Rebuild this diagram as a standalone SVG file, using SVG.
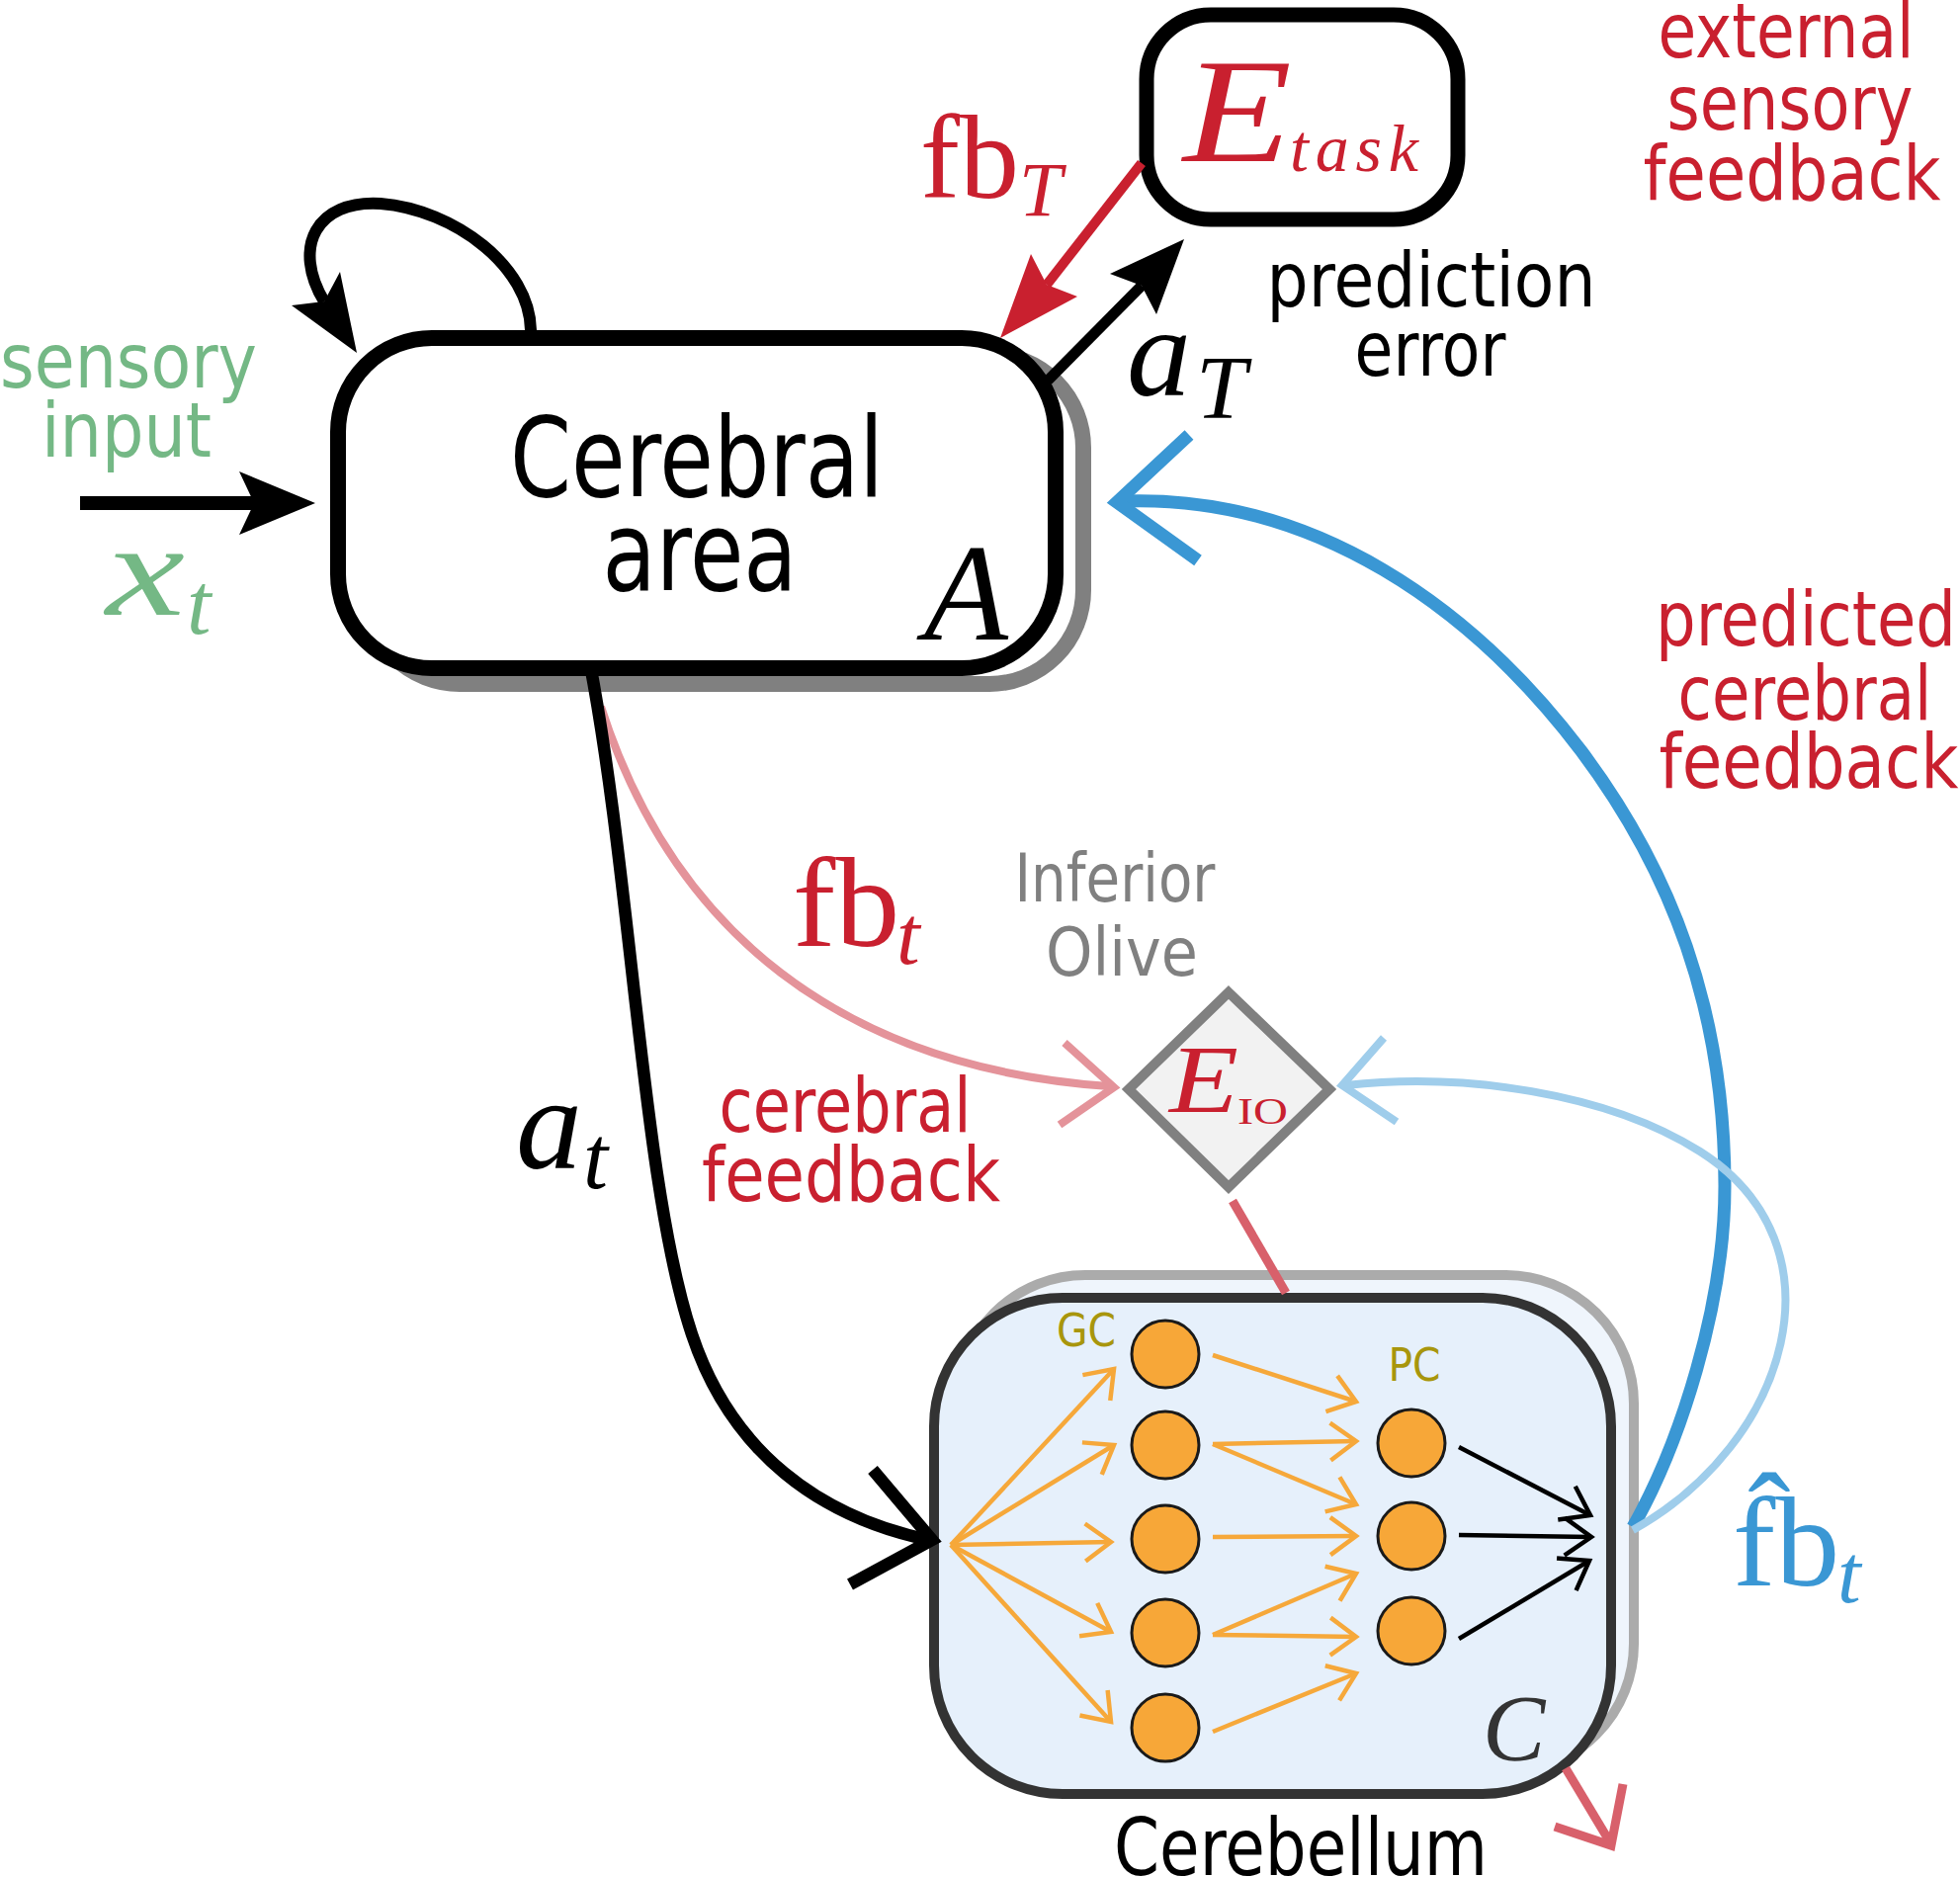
<svg xmlns="http://www.w3.org/2000/svg" width="1983" height="1899" viewBox="0 0 1983 1899">
<defs>
<style>
.sans{font-family:"DejaVu Sans","Liberation Sans",sans-serif;}
.math{font-family:"Liberation Serif","DejaVu Serif",serif;font-style:italic;}
.rm{font-family:"Liberation Serif","DejaVu Serif",serif;}
.red{fill:#c9202f;}
.green{fill:#74b885;}
.gray{fill:#808080;}
.olive{fill:#a8960c;}
.blk{fill:#000;}
.blue{fill:#3a97d4;}
.lbl{font-size:76px;}
.cell{fill:#f7a738;stroke:#1a1a1a;stroke-width:3;}
.oa{fill:none;stroke:#f6a83a;stroke-width:4.5;marker-end:url(#chevO);}
.ka{fill:none;stroke:#000;stroke-width:4.5;marker-end:url(#chevK);}
.chev{fill:none;stroke-linejoin:miter;stroke-linecap:butt;}
</style>
<marker id="chevO" markerUnits="userSpaceOnUse" markerWidth="60" markerHeight="60" refX="0" refY="0" orient="auto" overflow="visible">
<path d="M -26 -19 L 0 0 L -26 19" fill="none" stroke="#f6a83a" stroke-width="4.5"/>
</marker>
<marker id="chevK" markerUnits="userSpaceOnUse" markerWidth="60" markerHeight="60" refX="0" refY="0" orient="auto" overflow="visible">
<path d="M -27 -19 L 0 0 L -27 19" fill="none" stroke="#000" stroke-width="4.5"/>
</marker>
</defs>
<rect x="0" y="0" width="1983" height="1899" fill="#fff"/>

<g id="node-cerebral-area">
<rect x="370" y="358" width="726" height="334" rx="95" fill="#fff" stroke="#808080" stroke-width="16"/>
<rect x="342" y="342" width="726" height="334" rx="95" fill="#fff" stroke="#000" stroke-width="16"/>
<text class="sans blk" x="705" y="502" font-size="112" text-anchor="middle" textLength="378" lengthAdjust="spacingAndGlyphs">Cerebral</text>
<text class="sans blk" x="708" y="597" font-size="112" text-anchor="middle" textLength="197" lengthAdjust="spacingAndGlyphs">area</text>
<text class="math blk" x="935" y="647" font-size="139">A</text>
</g>

<g id="node-etask">
<rect x="1160" y="15" width="315" height="207" rx="65" fill="#fff" stroke="#000" stroke-width="15"/>
<text class="math red" x="1197" y="163" font-size="150" textLength="110" lengthAdjust="spacingAndGlyphs">E</text>
<text class="math red" x="1305" y="173" font-size="68" textLength="130" lengthAdjust="spacing">task</text>
</g>

<g id="node-inferior-olive">
<polygon points="1243,1004 1345,1102 1243,1201 1142,1102" fill="#f2f2f2" stroke="#808080" stroke-width="10"/>
<text class="math red" x="1183" y="1125" font-size="98" textLength="70" lengthAdjust="spacingAndGlyphs">E</text>
<text class="rm red" x="1252" y="1137" font-size="38" textLength="51" lengthAdjust="spacingAndGlyphs">IO</text>
<text class="sans gray" x="1128" y="912" font-size="68" text-anchor="middle" textLength="203" lengthAdjust="spacingAndGlyphs">Inferior</text>
<text class="sans gray" x="1135" y="987" font-size="68" text-anchor="middle" textLength="154" lengthAdjust="spacingAndGlyphs">Olive</text>
</g>

<g id="node-cerebellum">
<rect x="968" y="1290" width="685" height="503" rx="130" fill="#eff5fc" stroke="#ababab" stroke-width="10"/>
<rect x="945" y="1313" width="685" height="502" rx="130" fill="#e6f0fb" stroke="#333" stroke-width="10"/>
<g id="fan-in">
<line class="oa" x1="962" y1="1563" x2="1127" y2="1385"/>
<line class="oa" x1="962" y1="1563" x2="1127" y2="1462"/>
<line class="oa" x1="962" y1="1563" x2="1124" y2="1560"/>
<line class="oa" x1="962" y1="1563" x2="1124" y2="1651"/>
<line class="oa" x1="962" y1="1563" x2="1124" y2="1742"/>
</g>
<g id="gc-to-pc">
<line class="oa" x1="1227" y1="1371" x2="1372" y2="1418"/>
<line class="oa" x1="1227" y1="1461" x2="1372" y2="1458"/>
<line class="oa" x1="1227" y1="1461" x2="1372" y2="1522"/>
<line class="oa" x1="1227" y1="1555" x2="1372" y2="1554"/>
<line class="oa" x1="1227" y1="1654" x2="1372" y2="1592"/>
<line class="oa" x1="1227" y1="1654" x2="1372" y2="1656"/>
<line class="oa" x1="1227" y1="1752" x2="1372" y2="1693"/>
</g>
<g id="pc-out">
<line class="ka" x1="1476" y1="1464" x2="1609" y2="1533"/>
<line class="ka" x1="1476" y1="1553" x2="1610" y2="1555"/>
<line class="ka" x1="1476" y1="1658" x2="1608" y2="1579"/>
</g>
<g id="gc-cells">
<circle class="cell" cx="1179" cy="1370" r="34"/>
<circle class="cell" cx="1179" cy="1462" r="34"/>
<circle class="cell" cx="1179" cy="1557" r="34"/>
<circle class="cell" cx="1179" cy="1652" r="34"/>
<circle class="cell" cx="1179" cy="1748" r="34"/>
</g>
<g id="pc-cells">
<circle class="cell" cx="1428" cy="1460" r="34"/>
<circle class="cell" cx="1428" cy="1554" r="34"/>
<circle class="cell" cx="1428" cy="1650" r="34"/>
</g>
<text class="sans olive" x="1099" y="1362" font-size="46" text-anchor="middle" textLength="60" lengthAdjust="spacingAndGlyphs">GC</text>
<text class="sans olive" x="1431" y="1397" font-size="46" text-anchor="middle" textLength="53" lengthAdjust="spacingAndGlyphs">PC</text>
<text class="math" x="1500" y="1781" font-size="95" fill="#333">C</text>
<text class="sans blk" x="1316" y="1897" font-size="80" text-anchor="middle" textLength="378" lengthAdjust="spacingAndGlyphs">Cerebellum</text>
</g>

<g id="connectors">
<g id="conn-sensory">
<line x1="81" y1="509" x2="258" y2="509" stroke="#000" stroke-width="14"/>
<polygon points="319,509 242,477 257,509 242,541" fill="#000"/>
</g>
<g id="conn-selfloop">
<path d="M 537 334 C 536 270, 460 212, 385 206 C 320 202, 295 250, 328 305" fill="none" stroke="#000" stroke-width="12"/>
<polygon points="361,357 295,309 328,305 344,275" fill="#000"/>
</g>
<g id="conn-fb-t">
<path d="M 608 715 C 680 940, 850 1080, 1122 1099" fill="none" stroke="#e4939a" stroke-width="8"/>
<path class="chev" d="M 1077 1055 L 1127 1100 L 1072 1138" stroke="#e4939a" stroke-width="8"/>
</g>
<g id="conn-a-t">
<path d="M 597 672 C 640 900, 650 1200, 700 1350 C 740 1470, 830 1535, 940 1558" fill="none" stroke="#000" stroke-width="12.5"/>
<path class="chev" d="M 883 1487 L 943 1558 L 860 1603" stroke="#000" stroke-width="12.5"/>
</g>
<g id="conn-fb-T">
<line x1="1155" y1="165" x2="1059" y2="288" stroke="#c9202f" stroke-width="10"/>
<polygon points="1012,342 1043,257 1059,288 1090,300" fill="#c9202f"/>
</g>
<g id="conn-a-T">
<line x1="1060" y1="385" x2="1155" y2="289" stroke="#000" stroke-width="11"/>
<polygon points="1198,242 1123,277 1155,289 1170,318" fill="#000"/>
</g>
<g id="conn-fbhat-cerebral">
<path d="M 1652 1545 C 1700 1460, 1745 1320, 1745 1200 C 1745 1020, 1690 880, 1600 760 C 1490 615, 1330 500, 1136 507" fill="none" stroke="#3a97d4" stroke-width="13"/>
<path class="chev" d="M 1203 440 L 1130 508 L 1212 567" stroke="#3a97d4" stroke-width="13"/>
</g>
<g id="conn-fbhat-io">
<path d="M 1652 1548 C 1810 1460, 1870 1260, 1720 1165 C 1625 1105, 1480 1085, 1362 1098" fill="none" stroke="#9fcdeb" stroke-width="8"/>
<path class="chev" d="M 1400 1050 L 1358 1098 L 1413 1135" stroke="#9fcdeb" stroke-width="8"/>
</g>
<line id="conn-io-cerebellum" x1="1247" y1="1215" x2="1301" y2="1308" stroke="#d8606b" stroke-width="9"/>
<g id="conn-cerebellum-out">
<line x1="1584" y1="1789" x2="1629" y2="1864" stroke="#d8606b" stroke-width="9"/>
<path class="chev" d="M 1573 1848 L 1630 1867 L 1642 1805" stroke="#d8606b" stroke-width="9"/>
</g>
</g>

<g id="labels">
<text class="sans green" x="130" y="392" font-size="76" text-anchor="middle" textLength="260" lengthAdjust="spacingAndGlyphs">sensory</text>
<text class="sans green" x="128" y="462" font-size="76" text-anchor="middle" textLength="172" lengthAdjust="spacingAndGlyphs">input</text>
<text class="math green" x="107" y="622" font-size="134" textLength="80" lengthAdjust="spacingAndGlyphs">x</text>
<text class="math green" x="189" y="641" font-size="88">t</text>

<text class="rm red" x="931" y="200" font-size="120">fb</text>
<text class="math red" x="1031" y="218" font-size="78">T</text>

<text class="math blk" x="1140" y="400" font-size="130">a</text>
<text class="math blk" x="1210" y="423" font-size="92">T</text>

<text class="sans blk lbl" x="1448" y="310" text-anchor="middle" textLength="333" lengthAdjust="spacingAndGlyphs">prediction</text>
<text class="sans blk lbl" x="1447" y="380" text-anchor="middle" textLength="153" lengthAdjust="spacingAndGlyphs">error</text>

<text class="sans red lbl" x="1807" y="58" text-anchor="middle" textLength="259" lengthAdjust="spacingAndGlyphs">external</text>
<text class="sans red lbl" x="1811" y="131" text-anchor="middle" textLength="249" lengthAdjust="spacingAndGlyphs">sensory</text>
<text class="sans red lbl" x="1813" y="202" text-anchor="middle" textLength="301" lengthAdjust="spacingAndGlyphs">feedback</text>

<text class="sans red lbl" x="1827" y="653" text-anchor="middle" textLength="304" lengthAdjust="spacingAndGlyphs">predicted</text>
<text class="sans red lbl" x="1826" y="728" text-anchor="middle" textLength="257" lengthAdjust="spacingAndGlyphs">cerebral</text>
<text class="sans red lbl" x="1830" y="797" text-anchor="middle" textLength="303" lengthAdjust="spacingAndGlyphs">feedback</text>

<text class="rm red" x="802" y="957" font-size="130">fb</text>
<text class="math red" x="907" y="975" font-size="85">t</text>

<text class="sans red lbl" x="855" y="1145" text-anchor="middle" textLength="255" lengthAdjust="spacingAndGlyphs">cerebral</text>
<text class="sans red lbl" x="861" y="1215" text-anchor="middle" textLength="302" lengthAdjust="spacingAndGlyphs">feedback</text>

<text class="math blk" x="522" y="1182" font-size="134">a</text>
<text class="math blk" x="590" y="1202" font-size="90">t</text>

<text class="rm blue" x="1753" y="1604" font-size="130">fb</text>
<text class="rm blue" x="1790" y="1580" font-size="130" text-anchor="middle">ˆ</text>
<text class="math blue" x="1859" y="1621" font-size="85">t</text>
</g>
</svg>
